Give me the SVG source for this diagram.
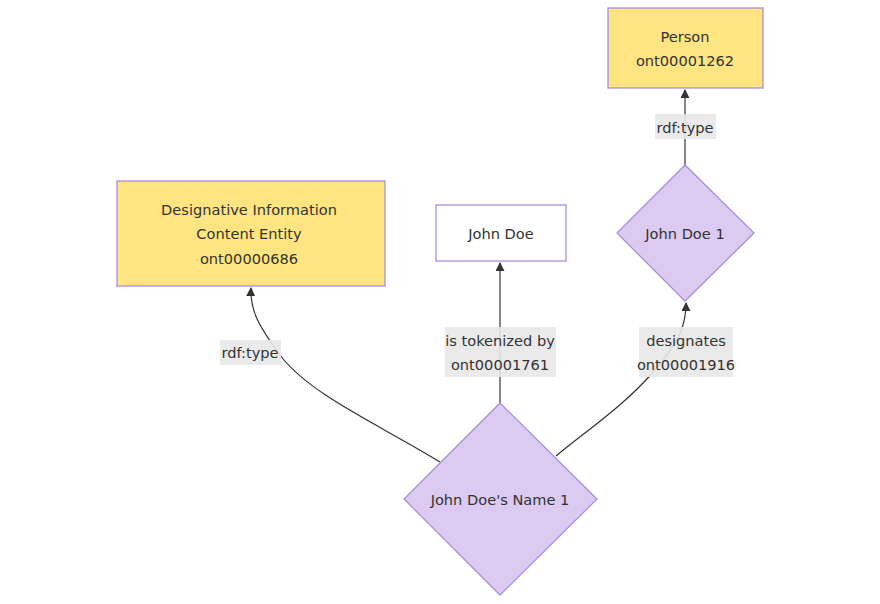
<svg xmlns="http://www.w3.org/2000/svg" width="880" height="604" viewBox="0 0 880 604">
<defs>
<marker id="arr" viewBox="0 0 10 10" refX="9" refY="5" markerWidth="9" markerHeight="9" markerUnits="userSpaceOnUse" orient="auto">
<path d="M0,0 L10,5 L0,10 z" fill="#333"/>
</marker>
<style>
.t{font-family:"DejaVu Sans",Verdana,sans-serif;font-size:14.6px;fill:#333;text-anchor:middle;dominant-baseline:central}
.cls{fill:#ffe581;stroke:#a98ee0;stroke-width:1.3}
.ind{fill:#dccaf0;stroke:#a98ee0;stroke-width:1.3}
.lit{fill:#fff;stroke:#a98ee0;stroke-width:1.3}
.e{fill:none;stroke:#333;stroke-width:1.2;marker-end:url(#arr)}
.lb{fill:#e8e8e8;opacity:0.9}
</style>
</defs>
<rect width="880" height="604" fill="#fff"/>
<g id="connectors">
<path class="e" d="M685,165 L685,90"/>
<path class="e" d="M500,403 L500,263"/>
<path class="e" d="M440,462 C380,425 310,395 280,355 C258,325 250,310 251,288"/>
<path class="e" d="M556,456 C590,428 625,405 655,370 C680,340 686,325 686,303"/>
<rect class="lb" x="655" y="114" width="61" height="25"/>
<text class="t" x="685" y="127">rdf:type</text>
<rect class="lb" x="445" y="327" width="111" height="50"/>
<text class="t" x="500" y="340">is tokenized by</text>
<text class="t" x="500" y="364">ont00001761</text>
<rect class="lb" x="220" y="340" width="61" height="25"/>
<text class="t" x="250" y="352">rdf:type</text>
<rect class="lb" x="639" y="327" width="94" height="50"/>
<text class="t" x="686" y="340">designates</text>
<text class="t" x="686" y="364">ont00001916</text>
</g>
<g id="person">
<rect class="cls" x="608" y="8" width="155" height="80"/>
<text class="t" x="685" y="36">Person</text>
<text class="t" x="685" y="60">ont00001262</text>
</g>
<g id="johndoe1">
<polygon class="ind" points="685,165 754,233 685,301 617,233"/>
<text class="t" x="685" y="233">John Doe 1</text>
</g>
<g id="dice">
<rect class="cls" x="117" y="181" width="268" height="105"/>
<text class="t" x="249" y="209">Designative Information</text>
<text class="t" x="249" y="233">Content Entity</text>
<text class="t" x="249" y="258">ont00000686</text>
</g>
<g id="johndoe">
<rect class="lit" x="436" y="205" width="130" height="56"/>
<text class="t" x="501" y="233">John Doe</text>
</g>
<g id="name1">
<polygon class="ind" points="500,403 597,499 500,595 404,499"/>
<text class="t" x="500" y="499">John Doe's Name 1</text>
</g>
</svg>
